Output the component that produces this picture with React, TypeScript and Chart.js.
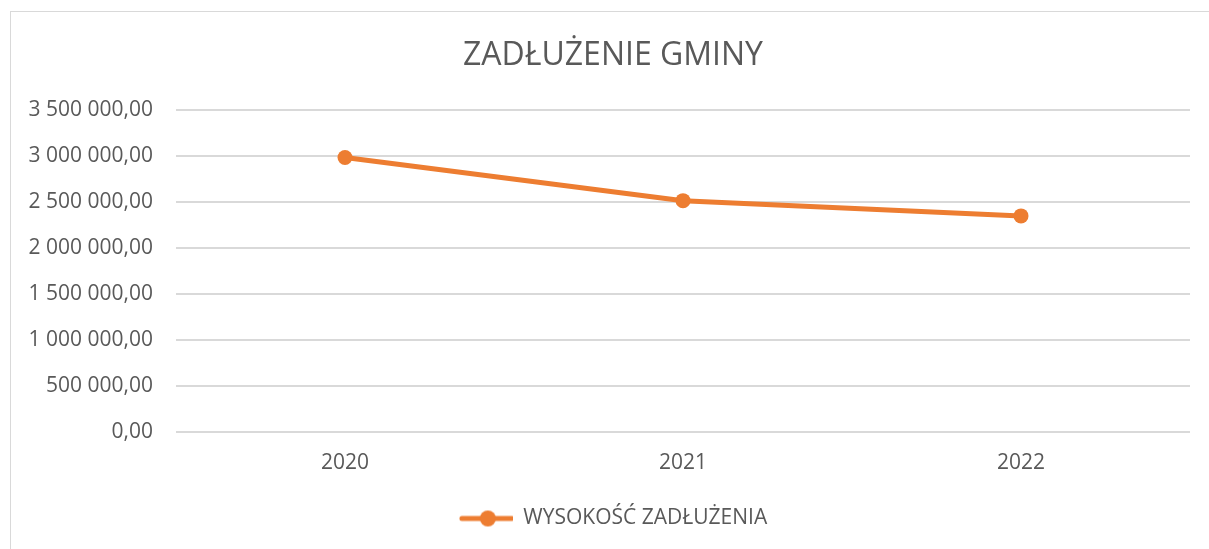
import React, { useEffect, useRef } from "react";
import { Chart, registerables } from "chart.js";

Chart.register(...registerables);

const categories = ["2020", "2021", "2022"];
const seriesLabel = "WYSOKOŚĆ ZADŁUŻENIA";
const debtValues = [2987000, 2517000, 2351000];
const chartTitle = "ZADŁUŻENIE GMINY";
const yMin = 0;
const yMax = 3500000;
const yStep = 500000;

const ORANGE = "#ED7D31";
const TEXT = "#595959";
const GRID = "#D9D9D9";
const FONT = "'Open Sans', sans-serif";

function formatPl(v: number): string {
  const fixed = Math.abs(v).toFixed(2);
  const [intPart, dec] = fixed.split(".");
  const grouped = intPart.replace(/\B(?=(\d{3})+(?!\d))/g, " ");
  return (v < 0 ? "-" : "") + grouped + "," + dec;
}

function makeLegendIcon(): HTMLCanvasElement {
  const c = document.createElement("canvas");
  c.width = 54;
  c.height = 18;
  const ctx = c.getContext("2d")!;
  ctx.strokeStyle = ORANGE;
  ctx.lineWidth = 5;
  ctx.lineCap = "round";
  ctx.beginPath();
  ctx.moveTo(3, 9);
  ctx.lineTo(53, 9);
  ctx.stroke();
  ctx.fillStyle = ORANGE;
  ctx.beginPath();
  ctx.arc(29, 9, 8, 0, Math.PI * 2);
  ctx.fill();
  return c;
}

export default function App() {
  const ref = useRef<HTMLCanvasElement | null>(null);

  useEffect(() => {
    if (!ref.current) return;
    const icon = makeLegendIcon();
    const chart = new Chart(ref.current, {
      type: "line",
      data: {
        labels: categories,
        datasets: [
          {
            label: seriesLabel,
            data: debtValues,
            borderColor: ORANGE,
            backgroundColor: ORANGE,
            borderWidth: 5,
            pointRadius: 7.5,
            pointHoverRadius: 7.5,
            pointBackgroundColor: ORANGE,
            pointBorderWidth: 0,
            tension: 0,
            yAxisID: "y",
          },
        ],
      },
      options: {
        responsive: false,
        animation: false,
        layout: { padding: { left: 0, right: 0, top: 0, bottom: 10 } },
        plugins: {
          title: {
            display: true,
            text: chartTitle,
            color: TEXT,
            font: { family: FONT, size: 32, weight: "normal" },
            padding: { top: 37, bottom: 35 },
          },
          legend: {
            position: "bottom",
            labels: {
              color: TEXT,
              font: { family: FONT, size: 21 },
              usePointStyle: true,
              pointStyleWidth: 54,
              padding: 13,
              generateLabels: (ch: any) => {
                const items = Chart.defaults.plugins.legend.labels.generateLabels(ch);
                return items.map((it: any) => ({ ...it, pointStyle: icon }));
              },
            },
          },
          tooltip: { enabled: false },
        },
        scales: {
          x: {
            offset: true,
            grid: { display: false, drawTicks: false },
            border: { display: false },
            ticks: {
              color: TEXT,
              font: { family: FONT, size: 21 },
              padding: 19,
            },
          },
          y: {
            min: yMin,
            max: yMax,
            afterFit: (scale: any) => {
              scale.width = 166;
            },
            grid: { color: GRID, lineWidth: 2, drawTicks: false },
            border: { display: false },
            ticks: {
              stepSize: yStep,
              color: TEXT,
              font: { family: FONT, size: 21 },
              padding: 23,
              callback: (v: any) => formatPl(Number(v)),
            },
          },
          yr: {
            type: "linear",
            position: "right",
            display: true,
            grid: { display: false, drawTicks: false },
            border: { display: false },
            ticks: { display: false },
            afterFit: (scale: any) => {
              scale.width = 26;
            },
          },
        },
      },
    });
    return () => chart.destroy();
  }, []);

  return (
    <div style={{ position: "fixed", left: 0, top: 0, width: 1209, height: 549, background: "#fff", overflow: "hidden" }}>
      <div
        style={{
          position: "absolute",
          left: 10,
          top: 11,
          width: 1300,
          height: 600,
          border: "1px solid #D9D9D9",
          boxSizing: "border-box",
        }}
      />
      <canvas ref={ref} width={1206} height={549} style={{ position: "absolute", left: 10, top: 0, display: "block" }} />
    </div>
  );
}
